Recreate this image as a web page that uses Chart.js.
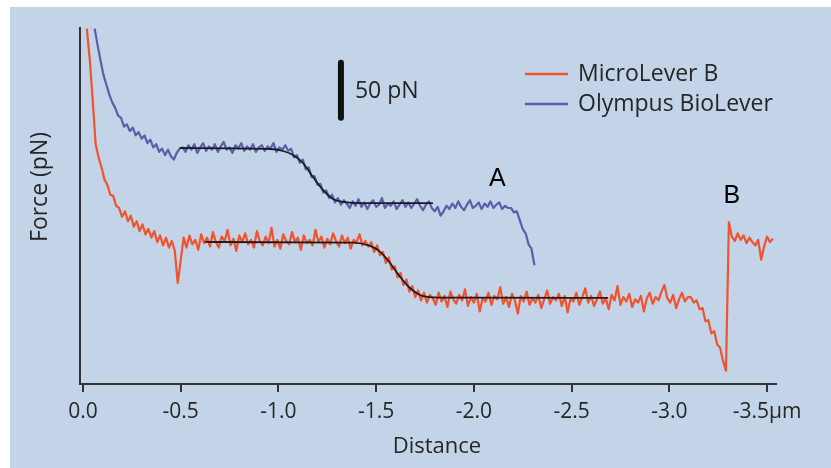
<!DOCTYPE html>
<html>
<head>
<meta charset="utf-8">
<script src="https://cdn.jsdelivr.net/npm/chart.js@4/dist/chart.umd.min.js"></script>
<style>
  html, body { margin: 0; padding: 0; background: #ffffff; }
  canvas { display: block; }
</style>
</head>
<body>
<canvas id="c" width="831" height="468"></canvas>
<script>
// ---------------- data (distance in µm, force in pN) ----------------
const seriesNames = ['MicroLever B', 'Olympus BioLever'];

const distStep = -0.015;            // sampling interval of both traces (µm)

const microLeverStart = -0.02;      // distance of first MicroLever B sample
const microLeverForce = [
  323, 295, 258, 218, 206, 197, 186, 181, 172, 171, 162, 160, 152, 157, 148, 153,
  143, 148, 139, 145, 136, 141, 133, 139, 129, 135, 126, 133, 124, 130, 121, 92, 112,
  133, 124, 135, 127, 131, 122, 136, 128,
  133, 125, 138, 129, 124, 134, 130, 140,
  126, 132, 121, 135, 129, 137, 127, 131,
  124, 139, 130, 126, 134, 128, 142, 125,
  131, 123, 136, 130, 127, 138, 129, 133,
  122, 135, 128, 131, 126, 140, 129, 134,
  124, 132, 127, 137, 130, 125, 135, 128,
  133, 123, 131, 129, 136, 126, 130, 125,
  129, 120, 126, 117, 120, 110, 115, 104, 107, 97, 101, 90, 95, 84, 89, 79, 85, 76, 83, 74, 81,
  78, 72, 83, 75, 80, 70, 84, 77,
  73, 81, 76, 86, 71, 79, 74, 82,
  66, 78, 75, 83, 72, 80, 77, 88,
  73, 79, 70, 82, 76, 64, 80, 75,
  84, 72, 78, 74, 81, 69, 77, 85,
  73, 79, 76, 82, 71, 80, 65, 78,
  75, 83, 72, 79, 87, 74, 80, 71,
  77, 84, 73, 78, 68, 81, 76, 89,
  72, 79, 75, 82, 70, 77, 74, 80,
  66, 78, 83, 73, 79, 76, 84, 90,
  78, 74, 81, 69, 77, 83, 75, 79,
  79, 74, 76, 68, 69, 57, 58, 46, 48, 36, 33, 21, 12,
  147, 134, 130, 137, 131, 135, 128, 133, 129, 126, 131, 113, 125, 134, 129, 132
];

const bioLeverStart = -0.06;        // distance of first Olympus BioLever sample
const bioLeverForce = [
  323, 308, 294, 281, 272, 263, 256, 251, 244, 242, 234, 236, 230, 233, 226, 229,
  223, 226, 219, 222, 215, 218, 211, 214, 208, 213, 207, 204, 210, 214,
  215, 211, 217, 213, 218, 210, 215, 219,
  212, 216, 213, 218, 211, 216, 220, 213,
  215, 210, 217, 214, 219, 212, 216, 213,
  218, 211, 215, 217, 212, 216, 214, 219,
  211, 215, 213, 217, 212,
  214, 206, 208, 201, 204, 195, 197, 188, 189, 181, 182, 174, 176, 169, 172, 165, 169, 163, 167,
  164, 160, 166, 162, 168, 161, 165, 159,
  164, 167, 161, 163, 169, 160, 164, 162,
  166, 159, 163, 167, 161, 165, 160, 164,
  168, 162, 158, 163, 166, 160, 157, 161,
  153, 157, 162, 159, 164, 160, 166, 161,
  158, 163, 167, 160, 162, 165, 159, 164,
  161, 166, 160, 163, 165, 159, 162, 160,
  160, 156, 157, 149, 141, 137, 127, 123, 108
];

// fitted curves (black)
const microFitDist  = [-0.624, -1.382, -1.469, -1.520, -1.571, -1.622, -1.673, -1.725, -1.791, -1.981, -2.687];
const microFitForce = [129.1, 128.5, 125.5, 120.3, 110.0, 97.5, 87.3, 80.9, 78.8, 78.5, 78.2];
const bioFitDist    = [-0.496, -0.957, -1.024, -1.075, -1.126, -1.177, -1.228, -1.279, -1.331, -1.402, -1.791];
const bioFitForce   = [214.5, 213.6, 211.8, 208.2, 200.9, 188.2, 176.4, 168.2, 165.5, 164.5, 164.5];

// 50 pN scale bar
const scaleBarDist = -1.32;
const scaleBarBase = 242;
const scaleBarSize = 50;
const scaleBarLabel = '50 pN';

// rupture labels
const eventLabels = ['A', 'B'];
const eventDist   = [-2.12, -3.32];
const eventForce  = [186, 171];

// axis
const tickValues = [0, -0.5, -1.0, -1.5, -2.0, -2.5, -3.0, -3.5];
const tickLabels = ['0.0', '-0.5', '-1.0', '-1.5', '-2.0', '-2.5', '-3.0', '-3.5\u03bcm'];
const xTitle = 'Distance';
const yTitle = 'Force (pN)';

// ---------------- build chart ----------------
const toPoints = (start, values) => values.map((v, i) => ({ x: start + i * distStep, y: v }));
const pair = (xs, ys) => xs.map((x, i) => ({ x: x, y: ys[i] }));

const RED = '#f0532d';
const BLUE = '#5a5eab';
const FONT = "'Open Sans', 'DejaVu Sans', sans-serif";
const TEXT = '#262626';

const backdrop = {
  id: 'backdrop',
  beforeDraw(chart) {
    const { ctx, width, height } = chart;
    ctx.save();
    ctx.fillStyle = '#ffffff';
    ctx.fillRect(0, 0, width, height);
    ctx.fillStyle = '#c3d4e8';
    ctx.fillRect(10, 7, width - 10, height - 7);
    ctx.restore();
  }
};

const annotations = {
  id: 'annotations',
  afterDraw(chart) {
    const { ctx } = chart;
    const xs = chart.scales.x, ys = chart.scales.y;
    ctx.save();
    ctx.fillStyle = TEXT;
    // axis titles
    ctx.font = '22px ' + FONT;
    ctx.textAlign = 'center';
    ctx.textBaseline = 'middle';
    ctx.fillText(xTitle, 437, 447);
    ctx.save();
    ctx.translate(40, 187);
    ctx.rotate(-Math.PI / 2);
    ctx.font = '23px ' + FONT;
    ctx.fillText(yTitle, 0, 0);
    ctx.restore();
    // scale bar label
    ctx.font = '23px ' + FONT;
    ctx.textAlign = 'left';
    const bx = xs.getPixelForValue(scaleBarDist);
    const by = ys.getPixelForValue(scaleBarBase + scaleBarSize / 2);
    ctx.fillText(scaleBarLabel, bx + 14, by + 1);
    // legend
    const legendColors = [RED, BLUE];
    const legendY = [74, 104];
    seriesNames.forEach((name, i) => {
      ctx.strokeStyle = legendColors[i];
      ctx.lineWidth = 2.5;
      ctx.beginPath();
      ctx.moveTo(525, legendY[i]);
      ctx.lineTo(568, legendY[i]);
      ctx.stroke();
      ctx.fillStyle = TEXT;
      ctx.fillText(name, 578, legendY[i]);
    });
    // event labels
    ctx.fillStyle = '#000000';
    ctx.font = "25px 'Liberation Sans', Arial, sans-serif";
    ctx.textAlign = 'center';
    eventLabels.forEach((t, i) => {
      ctx.fillText(t, xs.getPixelForValue(eventDist[i]), ys.getPixelForValue(eventForce[i]));
    });
    ctx.restore();
  }
};

const chart = new Chart(document.getElementById('c'), {
  type: 'line',
  data: {
    datasets: [
      { label: 'fit MicroLever B', data: pair(microFitDist, microFitForce), borderColor: '#1c1c1c',
        borderWidth: 1.8, cubicInterpolationMode: 'monotone', pointRadius: 0 },
      { label: 'fit Olympus BioLever', data: pair(bioFitDist, bioFitForce), borderColor: '#1c1c1c',
        borderWidth: 1.8, cubicInterpolationMode: 'monotone', pointRadius: 0 },
      { label: 'scale bar', data: [{ x: scaleBarDist, y: scaleBarBase }, { x: scaleBarDist, y: scaleBarBase + scaleBarSize }],
        borderColor: '#111111', borderWidth: 6, borderCapStyle: 'round', pointRadius: 0 },
      { label: seriesNames[0], data: toPoints(microLeverStart, microLeverForce), borderColor: RED,
        borderWidth: 2.2, borderJoinStyle: 'round', pointRadius: 0 },
      { label: seriesNames[1], data: toPoints(bioLeverStart, bioLeverForce), borderColor: BLUE,
        borderWidth: 2.2, borderJoinStyle: 'round', pointRadius: 0 }
    ]
  },
  options: {
    responsive: false,
    animation: false,
    parsing: false,
    layout: { padding: { left: 80, right: 55, top: 28, bottom: 45 } },
    plugins: { legend: { display: false }, tooltip: { enabled: false } },
    elements: { line: { tension: 0 } },
    scales: {
      x: {
        type: 'linear',
        reverse: true,
        min: -3.546,
        max: 0.015,
        afterBuildTicks: (axis) => { axis.ticks = tickValues.map(v => ({ value: v })); },
        border: { display: true, color: '#333333', width: 2 },
        grid: { display: true, drawOnChartArea: false, drawTicks: true, tickLength: 8, color: '#333333', lineWidth: 2 },
        ticks: {
          autoSkip: false, maxRotation: 0, padding: 7,
          color: TEXT,
          font: { family: FONT, size: 21 },
          callback: (value, index) => tickLabels[index]
        }
      },
      y: {
        type: 'linear',
        min: 0,
        max: 323.6,
        border: { display: true, color: '#333333', width: 2 },
        grid: { display: false, drawTicks: false },
        ticks: { display: false }
      }
    }
  },
  plugins: [backdrop, annotations]
});

// align the plot area with the reference frame
const ca = chart.chartArea;
const p = chart.options.layout.padding;
chart.options.layout.padding = {
  left: p.left + (80 - ca.left),
  right: p.right + (ca.right - 776),
  top: p.top + (28 - ca.top),
  bottom: p.bottom + (ca.bottom - 384)
};
chart.update();
</script>
</body>
</html>
